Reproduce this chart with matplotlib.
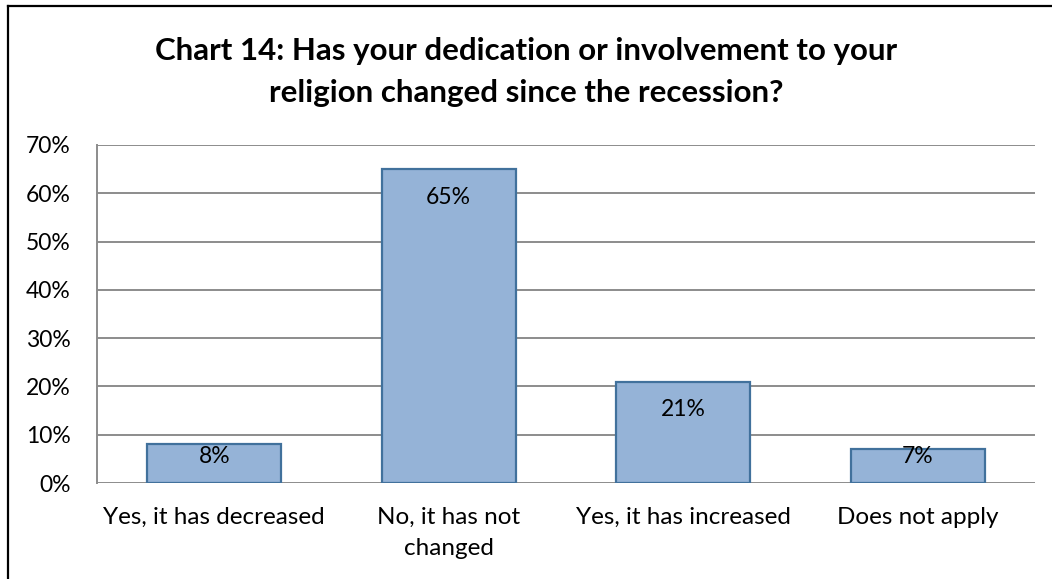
import matplotlib.pyplot as plt
from matplotlib.lines import Line2D

plt.rcParams['font.family'] = ['Lato', 'DejaVu Sans']

# Survey answers (percent of respondents)
categories = ['Yes, it has decreased', 'No, it has not\nchanged',
              'Yes, it has increased', 'Does not apply']
values = [8, 65, 21, 7]
yticks = [0, 10, 20, 30, 40, 50, 60, 70]

title = 'Chart 14: Has your dedication or involvement to your\nreligion changed since the recession?'

fill_color = '#95B3D7'
edge_color = '#41719C'
grid_color = '#8C8C8C'

fig = plt.figure(figsize=(10.52, 5.79), dpi=100)
ax = fig.add_axes([0.0922, 0.1658, 0.8916, 0.5838])

x = range(len(values))
ax.bar(x, values, width=0.57, color=fill_color, edgecolor=edge_color,
       linewidth=1.6, zorder=3)

ax.set_xlim(-0.5, len(values) - 0.5)
ax.set_ylim(0, 70)
ax.set_yticks(yticks)
ax.set_yticklabels([f'{t}%' for t in yticks], fontsize=16.5)
ax.set_xticks(list(x))
ax.set_xticklabels(categories, fontsize=17.5, linespacing=1.6)
ax.tick_params(axis='both', length=0, colors='black')
ax.tick_params(axis='y', pad=19)
ax.tick_params(axis='x', pad=17)

ax.yaxis.grid(True, color=grid_color, linewidth=1.4, zorder=0)
for side in ['top', 'right', 'bottom']:
    ax.spines[side].set_visible(False)
ax.spines['left'].set_color(grid_color)
ax.spines['left'].set_linewidth(1.4)

# value labels sit just inside the top of each bar
for xi, v in zip(x, values):
    y_lab = max(v - 5.8, 5.4)
    ax.text(xi, y_lab, f'{v}%', ha='center', va='center', fontsize=16.5, zorder=4)

fig.text(0.5, 0.875, title, ha='center', va='center', fontsize=22.5,
         fontweight='bold', linespacing=1.6)

# chart frame (top and left edges)
fig.add_artist(Line2D([8 / 1052, 1], [1 - 6 / 579, 1 - 6 / 579],
                      color='black', linewidth=1.6, transform=fig.transFigure))
fig.add_artist(Line2D([8 / 1052, 8 / 1052], [0, 1 - 6 / 579],
                      color='black', linewidth=1.6, transform=fig.transFigure))

fig.savefig('out.png', dpi=100, facecolor='white')
